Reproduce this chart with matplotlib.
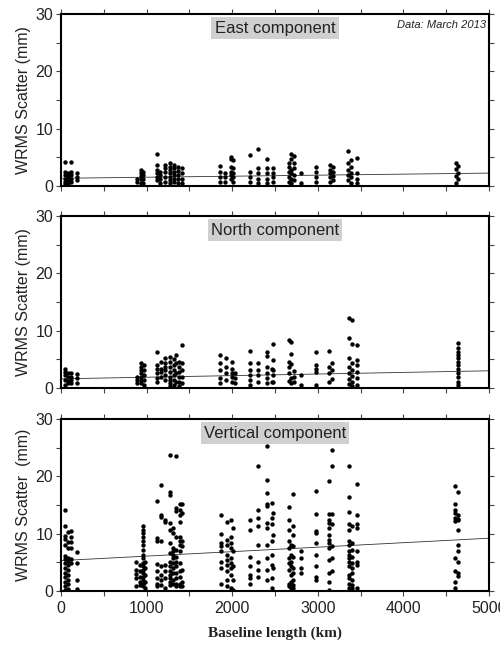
import matplotlib
matplotlib.use("Agg")
import matplotlib.pyplot as plt
from matplotlib.ticker import MultipleLocator

# ---------------- data (baseline km, WRMS mm) ----------------
EAST_KM = [47, 78, 117, 183, 884, 934, 962, 1117, 1156, 1215, 1273, 1320, 1367, 1410,
           1857, 1915, 1982, 2013, 2208, 2305, 2402, 2480, 2660, 2690, 2720, 2800,
           2979, 3142, 3173, 3350, 3385, 3461, 4610, 4635]
EAST_MM = [[4.2, 2.5, 1.9, 1.3, 0.75, 0.35], [2.3, 2.0, 1.6, 1.0, 0.45], [4.2, 2.5, 1.9, 1.3, 0.75],
           [2.2, 1.6, 1.05], [1.3, 0.75], [2.8, 2.2, 1.7, 1.2, 0.6], [2.5, 1.9, 1.3, 0.45],
           [5.6, 3.7, 2.8, 2.2, 1.6, 1.05], [2.5, 1.9, 1.3, 0.5], [3.7, 3.1, 2.5, 1.6, 0.75],
           [4.0, 3.4, 2.8, 2.2, 1.6, 1.05, 0.5], [3.7, 3.1, 2.5, 1.9, 1.3, 0.75],
           [3.4, 2.7, 1.9, 1.2, 0.5], [3.1, 2.2, 1.3, 0.6],
           [3.5, 2.5, 1.6, 0.75], [2.2, 1.5, 0.75], [5.0, 4.7, 3.4, 2.5, 1.9, 1.2],
           [4.5, 3.1, 2.2, 1.6, 0.75], [5.4, 2.5, 1.6, 0.75], [6.4, 3.1, 2.2, 1.3, 0.5],
           [4.7, 3.1, 2.2, 1.3, 0.5], [3.1, 2.2, 1.6, 0.75], [4.1, 3.4, 2.5, 1.6, 0.75],
           [5.6, 4.7, 2.8, 2.2, 1.2, 0.5], [5.2, 4.0, 3.1, 1.9, 1.0], [2.3, 0.5],
           [3.4, 2.5, 1.6, 0.75], [3.7, 2.8, 2.2, 1.5, 0.75], [3.4, 2.5, 1.7, 1.05],
           [6.1, 4.0, 2.8, 1.9, 1.05], [4.5, 3.4, 2.3, 1.5, 0.6], [4.8, 2.2, 1.3, 0.6],
           [4.0, 2.9, 1.7, 0.6], [3.5, 2.3, 1.2]]

NORTH_KM = [50, 80, 117, 183, 884, 934, 973, 1117, 1168, 1215, 1273, 1320, 1343, 1380, 1410,
            1857, 1925, 1995, 2030, 2208, 2305, 2402, 2465, 2480, 2660, 2690, 2720, 2800,
            2979, 3131, 3162, 3368, 3395, 3461, 4641]
NORTH_MM = [[3.4, 2.85, 2.3, 1.4, 0.5], [2.6, 1.9, 1.2, 0.9], [2.6, 2.0, 1.4, 0.8], [2.4, 1.7, 0.8],
            [2.0, 1.4, 0.8], [4.4, 3.7, 3.1, 2.6, 2.0, 1.4, 0.8], [4.0, 3.1, 2.3, 1.4, 0.5],
            [6.2, 4.0, 3.4, 2.6, 1.7, 1.1], [4.6, 3.4, 2.85, 2.0], [5.2, 4.3, 3.7, 3.1, 2.3, 1.4],
            [5.35, 4.6, 3.7, 2.85, 2.0, 1.4, 0.8, 0.35], [5.0, 4.0, 3.1, 2.3, 1.4, 0.5],
            [5.75, 4.3, 2.6, 1.1], [4.6, 3.7, 2.85, 2.0, 1.1, 0.35], [7.5, 4.3, 3.1, 2.0, 0.8],
            [5.75, 4.3, 3.1, 1.7, 0.8], [5.2, 3.7, 2.6, 1.4], [4.6, 3.4, 2.6, 2.0, 1.1],
            [2.6, 1.7, 0.8], [6.45, 4.3, 3.1, 2.3, 1.4, 0.5], [4.4, 3.1, 2.3, 1.1],
            [6.2, 5.6, 3.7, 2.6, 1.7, 0.8], [3.4, 1.1], [7.7, 4.9, 3.1, 2.3, 1.1],
            [8.3, 4.6, 3.7, 2.6, 1.3], [8.0, 5.9, 4.2, 1.7, 0.8], [3.0, 2.0, 1.0], [2.3, 0.5],
            [6.2, 4.0, 3.4, 2.85, 0.5], [6.5, 3.7, 2.6, 1.1], [4.4, 3.1, 1.5],
            [12.2, 8.8, 5.2, 3.7, 2.6, 1.5, 0.7], [11.9, 7.7, 4.4, 3.1, 2.1, 1.1, 0.35],
            [7.5, 4.9, 4.0, 2.85, 1.7, 0.5],
            [7.9, 6.9, 6.3, 5.75, 5.2, 4.6, 4.0, 3.3, 2.7, 1.9, 1.1, 0.5]]

VERT_KM = [50, 80, 120, 183, 876, 923, 954, 981, 1117, 1168, 1215, 1273, 1308, 1343, 1390, 1410,
           1865, 1935, 1982, 2010, 2208, 2305, 2402, 2465, 2480, 2663, 2683, 2714, 2803,
           2979, 3131, 3162, 3368, 3395, 3461, 4602, 4641]
VERT_MM = [[14.1, 11.4, 9.6, 9.0, 8.0, 6.1, 5.5, 4.9, 4.0, 3.2, 2.5, 1.6, 0.8, 0.2],
           [10.3, 8.5, 7.5, 5.8, 5.2, 4.5, 3.6, 2.8, 2.0, 1.2, 0.4],
           [10.4, 9.5, 8.6, 7.5, 5.5, 4.8], [6.8, 4.9, 1.9, 0.3],
           [5.1, 3.7, 2.9, 2.2, 0.8], [4.6, 3.4, 2.5, 1.6, 1.05],
           [11.3, 10.7, 10.1, 9.5, 8.8, 8.0, 7.2, 6.3, 5.7, 4.9, 4.3, 3.7, 3.1, 2.5, 1.9, 1.3, 0.8],
           [5.1, 4.0, 2.8, 1.6, 0.5],
           [15.7, 9.2, 8.8, 4.7, 3.4, 2.2, 1.3, 0.8], [18.4, 13.2, 12.9, 8.7, 4.3, 2.8, 1.9, 1.05],
           [12.3, 12.0, 4.6, 3.4, 2.2, 0.5],
           [23.7, 17.3, 16.8, 11.9, 10.7, 8.4, 6.6, 5.1, 4.3, 3.4, 2.8, 2.2, 1.6, 1.05],
           [11.0, 10.1, 7.5, 6.9, 6.3, 5.7, 4.9, 4.0, 3.1, 1.9, 1.3],
           [23.5, 14.5, 13.9, 9.5, 7.2, 6.0, 5.1, 4.3, 3.1, 2.2, 1.3, 0.8],
           [15.2, 14.2, 13.3, 12.0, 9.4, 8.8, 8.1, 6.9, 4.9, 3.4, 2.5, 1.3, 0.9],
           [15.1, 13.6, 8.7, 7.8, 3.7, 1.6, 0.8],
           [13.2, 10.0, 8.4, 7.8, 6.9, 5.1, 4.0, 1.3], [12.0, 8.9, 8.1, 6.3, 5.4, 4.6, 3.4, 1.9, 0.9],
           [12.3, 9.5, 8.4, 7.5, 5.7, 4.9, 4.0, 2.8, 0.5], [11.0, 6.9, 4.3, 1.9, 0.2],
           [12.3, 10.7, 6.0, 4.3, 2.8, 2.2, 1.3], [21.8, 14.2, 12.7, 11.3, 8.1, 5.1, 3.7, 2.5],
           [25.3, 19.4, 17.1, 15.1, 14.8, 11.9, 11.0, 8.1, 5.7, 3.7, 1.9],
           [15.4, 12.7, 11.6, 8.7, 6.3, 4.6, 2.2, 0.5], [13.6, 9.8, 4.0],
           [14.6, 12.3, 10.7, 8.7, 7.5, 5.7, 4.9, 3.7, 1.3, 0.8], [8.1, 6.3, 5.1, 4.3, 2.8, 1.6, 0.5],
           [17.0, 11.3, 9.8, 7.8, 6.0, 4.0, 3.1, 1.9, 1.05, 0.5], [6.9, 5.7, 4.0, 3.1],
           [17.4, 13.5, 10.4, 10.1, 8.4, 6.3, 4.4, 2.5, 1.9],
           [19.1, 13.5, 12.3, 11.9, 11.0, 9.8, 8.9, 8.4, 7.5, 5.4, 3.1, 1.6, 0.2],
           [24.6, 21.8, 13.5, 11.6, 7.8, 5.7, 3.4],
           [21.8, 16.4, 13.8, 11.6, 10.7, 8.7, 8.1, 6.9, 6.3, 5.7, 5.1, 4.3, 2.8, 2.2, 1.3, 0.5],
           [11.3, 8.4, 7.2, 6.0, 4.9, 4.0, 3.1, 1.9, 1.05, 0.5],
           [18.7, 13.3, 11.6, 11.0, 6.9, 5.1, 4.6, 0.5],
           [18.3, 15.2, 14.2, 13.6, 12.7, 12.2, 5.7, 3.4, 1.6, 0.5],
           [17.3, 13.3, 12.6, 12.3, 10.6, 8.1, 6.9, 5.1, 3.1, 2.6]]

# linear trend end points (km -> mm)
TREND_KM = [0, 5000]
EAST_TREND = [1.35, 2.25]
NORTH_TREND = [1.6, 3.0]
VERT_TREND = [5.3, 9.2]

TITLES = ["East component", "North component", "Vertical component"]
YLABELS = ["WRMS Scatter (mm)", "WRMS Scatter (mm)", "WRMS Scatter  (mm)"]
XTICKS = [0, 1000, 2000, 3000, 4000, 5000]
YTICKS = [0, 10, 20, 30]


def flatten(kms, mms):
    xs, ys = [], []
    for k, col in zip(kms, mms):
        for v in col:
            xs.append(k)
            ys.append(v)
    return xs, ys


plt.rcParams['font.family'] = ['Liberation Sans', 'DejaVu Sans']

fig = plt.figure(figsize=(5.0, 6.47), dpi=100)
left, right = 0.122, 0.978
boxes = [(0.7125, 0.9784), (0.4003, 0.6662), (0.0866, 0.3524)]
series = [(EAST_KM, EAST_MM, EAST_TREND), (NORTH_KM, NORTH_MM, NORTH_TREND),
          (VERT_KM, VERT_MM, VERT_TREND)]

for i, ((b, t), (kms, mms, trend)) in enumerate(zip(boxes, series)):
    ax = fig.add_axes([left, b, right - left, t - b])
    xs, ys = flatten(kms, mms)
    ax.plot(TREND_KM, trend, color='#333333', lw=0.6, zorder=2)
    ax.scatter(xs, ys, s=10, color='black', linewidths=0, zorder=3)
    ax.set_xlim(0, 5000)
    ax.set_ylim(0, 30)
    ax.set_xticks(XTICKS)
    ax.xaxis.set_minor_locator(MultipleLocator(500))
    ax.set_yticks(YTICKS)
    ax.yaxis.set_minor_locator(MultipleLocator(5))
    for which in ('major', 'minor'):
        ax.tick_params(axis='both', which=which, direction='out', length=3.5, width=0.8,
                       top=True, right=True, color='#444444')
    ax.tick_params(axis='y', labelsize=11.5, pad=2, labelcolor='#222222')
    if i < 2:
        ax.tick_params(axis='x', labelbottom=False)
    else:
        ax.tick_params(axis='x', labelsize=11.5, pad=4, labelcolor='#222222')
        ax.set_xlabel("Baseline length (km)", family='Liberation Serif', fontweight='bold',
                      fontsize=11, labelpad=7, color='#222222')
    for sp in ax.spines.values():
        sp.set_linewidth(1.5)
    ax.set_ylabel(YLABELS[i], fontsize=11.5, labelpad=3, color='#222222')
    ax.text(0.5, 0.917, TITLES[i], transform=ax.transAxes, ha='center', va='center',
            fontsize=12, color='#222222',
            bbox=dict(boxstyle='square,pad=0.2', facecolor='#d0d0d0', edgecolor='none'))
    if i == 0:
        ax.text(0.993, 0.936, "Data: March 2013", transform=ax.transAxes, ha='right',
                va='center', fontsize=8, style='italic', color='#222222')

fig.savefig("out.png", dpi=100)
